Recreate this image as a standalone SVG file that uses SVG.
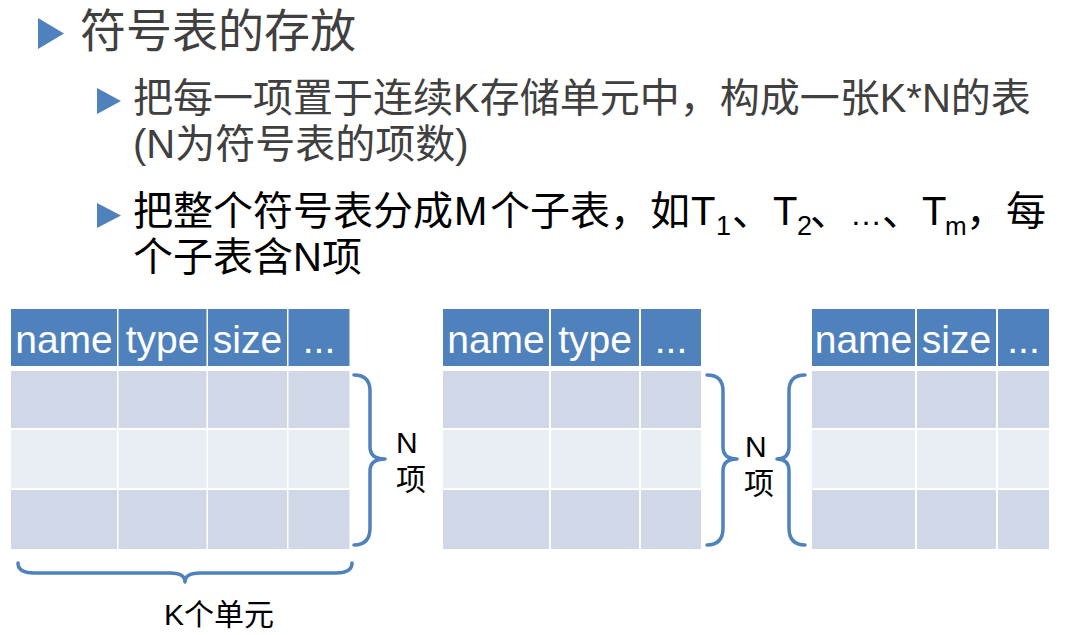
<svg xmlns="http://www.w3.org/2000/svg" width="1066" height="635" viewBox="0 0 1066 635">
<style>
.t{font-family:"Liberation Sans","Noto Sans CJK SC",sans-serif;}
.gray{fill:#404040;}
.blk{fill:#000000;}
.bul{fill:#4F81BD;}
.hd{fill:#4F81BD;}
.r1{fill:#D0D8E8;}
.r2{fill:#E9EDF4;}
.ht{font-family:"Liberation Sans",Arial,sans-serif;font-size:39px;fill:#FFFFFF;text-anchor:middle;}
.br{fill:none;stroke:#4F81BD;stroke-width:3.5;stroke-linecap:round;stroke-linejoin:round;}
.lbl{font-family:"Liberation Sans","Noto Sans CJK SC",sans-serif;font-size:30px;fill:#000000;}
</style>
<rect x="0" y="0" width="1066" height="635" fill="#FFFFFF"/>

<g id="title">
  <polygon class="bul" points="38,18 64,33.5 38,49"/>
  <text class="t gray" x="80" y="47" font-size="46">符号表的存放</text>
</g>

<g id="bullet1">
  <polygon class="bul" points="97,88 121,101 97,114"/>
  <text class="t gray" x="133" y="112" font-size="40">把每一项置于连续K存储单元中，构成一张K*N的表</text>
  <text class="t gray" x="133" y="158" font-size="40">(N为符号表的项数)</text>
</g>

<g id="bullet2">
  <polygon class="bul" points="97,203 121,215.5 97,228"/>
  <text class="t blk" y="225" font-size="40"><tspan x="133">把整个符号表分成</tspan><tspan x="454">M</tspan><tspan x="490">个子表，如</tspan><tspan x="691">T</tspan><tspan x="716" y="235" font-size="27">1</tspan><tspan x="732" y="225">、</tspan><tspan x="773">T</tspan><tspan x="797" y="235" font-size="27">2</tspan><tspan x="810" y="225">、</tspan><tspan x="850" font-size="32">…</tspan><tspan x="882">、</tspan><tspan x="922">T</tspan><tspan x="945" y="235" font-size="26">m</tspan><tspan x="966" y="225">，</tspan><tspan x="1006">每</tspan></text>
  <text class="t blk" x="133" y="271" font-size="40">个子表含N项</text>
</g>

<g id="table1">
  <rect class="hd" x="11" y="309" width="106" height="57"/>
  <rect class="hd" x="118.5" y="309" width="88" height="57"/>
  <rect class="hd" x="208" y="309" width="79" height="57"/>
  <rect class="hd" x="288.5" y="309" width="61" height="57"/>
  <text class="ht" x="64" y="353">name</text>
  <text class="ht" x="162.5" y="353">type</text>
  <text class="ht" x="247.5" y="353">size</text>
  <text class="ht" x="319" y="353">...</text>
  <rect class="r1" x="11" y="371" width="106" height="57"/>
  <rect class="r1" x="118.5" y="371" width="88" height="57"/>
  <rect class="r1" x="208" y="371" width="79" height="57"/>
  <rect class="r1" x="288.5" y="371" width="61" height="57"/>
  <rect class="r2" x="11" y="430" width="106" height="58"/>
  <rect class="r2" x="118.5" y="430" width="88" height="58"/>
  <rect class="r2" x="208" y="430" width="79" height="58"/>
  <rect class="r2" x="288.5" y="430" width="61" height="58"/>
  <rect class="r1" x="11" y="490" width="106" height="59"/>
  <rect class="r1" x="118.5" y="490" width="88" height="59"/>
  <rect class="r1" x="208" y="490" width="79" height="59"/>
  <rect class="r1" x="288.5" y="490" width="61" height="59"/>
</g>

<g id="table2">
  <rect class="hd" x="443" y="309" width="106" height="57"/>
  <rect class="hd" x="551" y="309" width="88" height="57"/>
  <rect class="hd" x="641" y="309" width="60" height="57"/>
  <text class="ht" x="496" y="353">name</text>
  <text class="ht" x="595" y="353">type</text>
  <text class="ht" x="671" y="353">...</text>
  <rect class="r1" x="443" y="371" width="106" height="57"/>
  <rect class="r1" x="551" y="371" width="88" height="57"/>
  <rect class="r1" x="641" y="371" width="60" height="57"/>
  <rect class="r2" x="443" y="430" width="106" height="58"/>
  <rect class="r2" x="551" y="430" width="88" height="58"/>
  <rect class="r2" x="641" y="430" width="60" height="58"/>
  <rect class="r1" x="443" y="490" width="106" height="59"/>
  <rect class="r1" x="551" y="490" width="88" height="59"/>
  <rect class="r1" x="641" y="490" width="60" height="59"/>
</g>

<g id="table3">
  <rect class="hd" x="812" y="309" width="103" height="57"/>
  <rect class="hd" x="917" y="309" width="79" height="57"/>
  <rect class="hd" x="998" y="309" width="51" height="57"/>
  <text class="ht" x="863.5" y="353">name</text>
  <text class="ht" x="956.5" y="353">size</text>
  <text class="ht" x="1023.5" y="353">...</text>
  <rect class="r1" x="812" y="371" width="103" height="57"/>
  <rect class="r1" x="917" y="371" width="79" height="57"/>
  <rect class="r1" x="998" y="371" width="51" height="57"/>
  <rect class="r2" x="812" y="430" width="103" height="58"/>
  <rect class="r2" x="917" y="430" width="79" height="58"/>
  <rect class="r2" x="998" y="430" width="51" height="58"/>
  <rect class="r1" x="812" y="490" width="103" height="59"/>
  <rect class="r1" x="917" y="490" width="79" height="59"/>
  <rect class="r1" x="998" y="490" width="51" height="59"/>
</g>

<g id="connectors">
  <path class="br" d="M354,375 Q370,375 370,391 L370,447 Q370,459 385,459 Q370,459 370,471 L370,528 Q370,545 354,545"/>
  <path class="br" d="M707,375 Q723,375 723,391 L723,447 Q723,459 737,459 Q723,459 723,471 L723,528 Q723,545 707,545"/>
  <path class="br" d="M805,375 Q789,375 789,391 L789,447 Q789,459 777,459 Q789,459 789,471 L789,528 Q789,545 805,545"/>
  <path class="br" d="M18,563 Q18,573 34,573 L170,573 Q185,573 185,582 Q185,573 200,573 L336,573 Q352,573 352,563"/>
</g>

<g id="label-n1">
  <text class="lbl" x="396" y="453">N</text>
  <text class="lbl" x="396" y="490">项</text>
</g>
<g id="label-n2">
  <text class="lbl" x="745" y="457">N</text>
  <text class="lbl" x="744" y="494">项</text>
</g>
<g id="label-k">
  <text class="lbl" x="164" y="625" font-size="29">K个单元</text>
</g>
</svg>
